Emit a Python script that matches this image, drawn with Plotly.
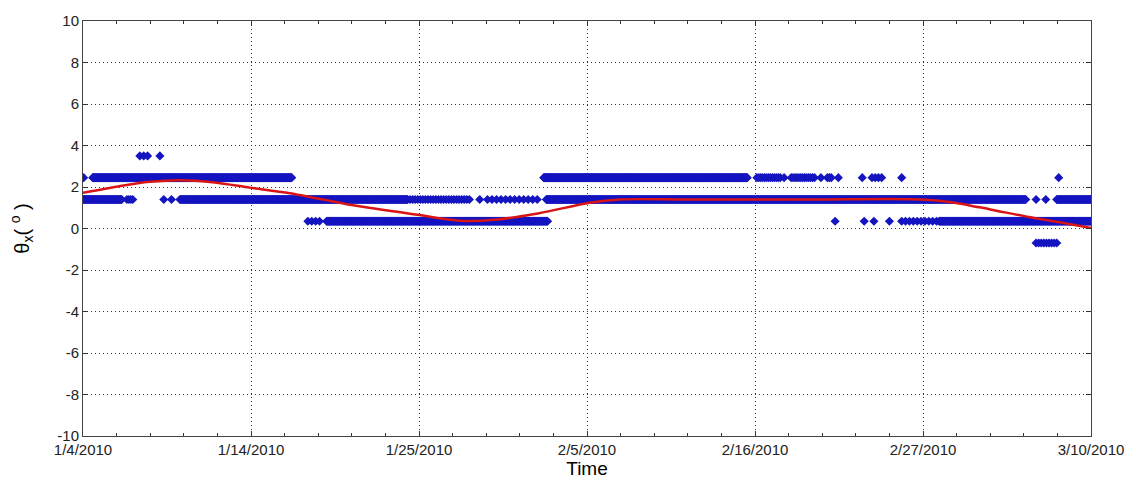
import pandas as pd
import plotly.graph_objects as go

# ---------------- data ----------------
# runs of samples at quantised levels: start, end, level, sample spacing
run_start = [
    "2010-01-04 01:00", "2010-01-04 15:00", "2010-02-02 17:00", "2010-02-16 11:00",
    "2010-02-18 05:00", "2010-02-18 16:00", "2010-02-20 14:00", "2010-02-21 00:00",
    "2010-02-21 17:00", "2010-02-23 06:00", "2010-02-23 21:00", "2010-02-25 19:00",
    "2010-03-07 22:00",
    "2010-01-04 00:00", "2010-01-06 20:00", "2010-01-09 05:00", "2010-01-09 17:00",
    "2010-01-10 06:00", "2010-01-24 22:00", "2010-01-29 14:00", "2010-01-30 02:00",
    "2010-02-02 21:00", "2010-03-06 11:00", "2010-03-07 02:00", "2010-03-07 19:00",
    "2010-01-18 12:00", "2010-01-19 17:00", "2010-02-21 12:00", "2010-02-23 09:00",
    "2010-02-24 00:00", "2010-02-25 00:00", "2010-02-25 19:00", "2010-02-28 05:00",
    "2010-03-06 11:00",
    "2010-01-07 16:00", "2010-01-08 23:00",
]
run_end = [
    "2010-01-04 01:00", "2010-01-17 11:00", "2010-02-15 20:00", "2010-02-18 01:00",
    "2010-02-18 05:00", "2010-02-20 04:00", "2010-02-20 14:00", "2010-02-21 06:00",
    "2010-02-21 17:00", "2010-02-23 06:00", "2010-02-24 13:00", "2010-02-25 19:00",
    "2010-03-07 22:00",
    "2010-01-06 12:00", "2010-01-07 05:00", "2010-01-09 05:00", "2010-01-09 17:00",
    "2010-01-24 22:00", "2010-01-28 22:00", "2010-01-29 14:00", "2010-02-02 11:00",
    "2010-03-05 19:00", "2010-03-06 11:00", "2010-03-07 02:00", "2010-03-10 00:00",
    "2010-01-19 06:00", "2010-02-02 23:00", "2010-02-21 12:00", "2010-02-23 09:00",
    "2010-02-24 00:00", "2010-02-25 00:00", "2010-02-28 05:00", "2010-03-10 00:00",
    "2010-03-07 19:00",
    "2010-01-08 04:00", "2010-01-08 23:00",
]
run_level = [
    2.45, 2.45, 2.45, 2.45, 2.45, 2.45, 2.45, 2.45, 2.45, 2.45, 2.45, 2.45, 2.45,
    1.40, 1.40, 1.40, 1.40, 1.40, 1.40, 1.40, 1.40, 1.40, 1.40, 1.40, 1.40,
    0.35, 0.35, 0.35, 0.35, 0.35, 0.35, 0.35, 0.35,
    -0.70,
    3.50, 3.50,
]
run_step = [
    "1h", "1h", "1h", "3h", "1h", "3h", "1h", "3h", "1h", "1h", "5h", "1h", "1h",
    "1h", "3h", "1h", "1h", "1h", "4h", "1h", "7h", "1h", "1h", "1h", "1h",
    "6h", "1h", "1h", "1h", "1h", "1h", "6h", "1h",
    "4h",
    "6h", "1h",
]

# smooth fitted curve (red), control points
fit_time = [
    "2010-01-04 00:00", "2010-01-06 10:00", "2010-01-08 07:00", "2010-01-10 06:00",
    "2010-01-12 12:00", "2010-01-14 18:00", "2010-01-17 08:00", "2010-01-21 08:00",
    "2010-01-25 14:00", "2010-01-28 10:00", "2010-01-30 12:00", "2010-02-02 10:00",
    "2010-02-05 16:00", "2010-02-07 14:00", "2010-02-12 00:00", "2010-02-20 00:00",
    "2010-02-27 00:00", "2010-03-01 00:00", "2010-03-03 12:00", "2010-03-06 00:00",
    "2010-03-08 00:00", "2010-03-10 00:00",
]
fit_value = [
    1.72, 2.05, 2.25, 2.33, 2.22, 1.97, 1.70, 1.13,
    0.66, 0.37, 0.42, 0.74, 1.24, 1.40, 1.40, 1.40,
    1.40, 1.27, 0.92, 0.55, 0.30, 0.02,
]

x_tick_text = ["1/4/2010", "1/14/2010", "1/25/2010", "2/5/2010",
               "2/16/2010", "2/27/2010", "3/10/2010"]
y_tick_vals = [-10, -8, -6, -4, -2, 0, 2, 4, 6, 8, 10]
y_tick_text = ["-10", "-8", "-6", "-4", "-2", "0", "2", "4", "6", "8", "10"]
x_start, x_end = "2010-01-04 00:00", "2010-03-10 00:00"

# ---------------- build points ----------------
pt_t, pt_v = [], []
for s, e, lv, st in zip(run_start, run_end, run_level, run_step):
    ts = pd.date_range(s, e, freq=st)
    pt_t.extend(ts)
    pt_v.extend([lv] * len(ts))

t0, t1 = pd.Timestamp(x_start), pd.Timestamp(x_end)
span = t1 - t0
major_vals = [t0 + span * k / 6 for k in range(7)]
minor_vals = [t0 + span * k / 30 for k in range(31)]

fig = go.Figure()
fig.add_trace(go.Scatter(
    x=pt_t, y=pt_v, mode="markers",
    marker=dict(symbol="diamond", size=7, color="#1414c0", line=dict(width=0)),
    showlegend=False, hoverinfo="skip"))
fig.add_trace(go.Scatter(
    x=pd.to_datetime(fit_time), y=fit_value, mode="lines",
    line=dict(color="#d81414", width=2.5, shape="spline", smoothing=0.8),
    showlegend=False, hoverinfo="skip"))

FAM = "Liberation Sans, Arial, sans-serif"
axis_font = dict(family=FAM, size=15, color="#222")
grid = dict(showgrid=True, gridcolor="#333", griddash="1px,3px", gridwidth=1)
fig.update_layout(
    width=1136, height=491,
    margin=dict(l=83, r=44, t=15, b=55),
    paper_bgcolor="white", plot_bgcolor="white",
    font=axis_font,
    xaxis=dict(
        range=[t0, t1], tickmode="array", tickvals=major_vals, ticktext=x_tick_text,
        ticks="inside", ticklen=5, tickcolor="#333", tickwidth=1,
        showline=True, linecolor="#444", linewidth=1, mirror="ticks",
        zeroline=False, tickfont=axis_font, **grid,
        minor=dict(tickmode="array", tickvals=minor_vals, ticks="inside",
                   ticklen=3, tickcolor="#333", showgrid=False),
        title=dict(text="Time", font=dict(family=FAM, size=19, color="#000"),
                   standoff=2),
    ),
    yaxis=dict(
        range=[-10, 10], tickmode="array", tickvals=y_tick_vals, ticktext=y_tick_text,
        ticks="inside", ticklen=5, tickcolor="#333", tickwidth=1,
        showline=True, linecolor="#444", linewidth=1, mirror="ticks",
        zeroline=False, tickfont=axis_font, **grid,
        title=dict(text="θ<sub>x</sub>( <sup>o</sup> )",
                   font=dict(family=FAM, size=20, color="#000"), standoff=22),
    ),
)

fig.write_html("out.html")
